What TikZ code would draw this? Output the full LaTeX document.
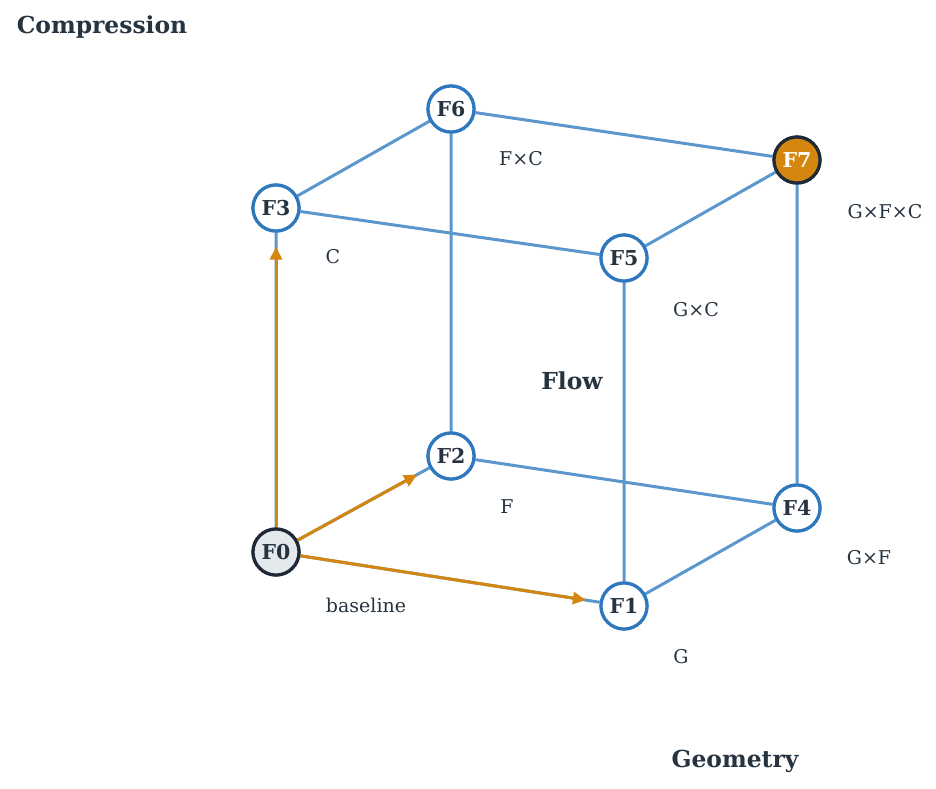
\documentclass[tikz,border=0pt]{standalone}
\usepackage{fontspec}
\setmainfont{DejaVu Serif}
\usetikzlibrary{arrows.meta}
\definecolor{txt}{HTML}{263340}
\definecolor{edgeblue}{HTML}{5B96CC}
\definecolor{nodeblue}{HTML}{2F78BE}
\definecolor{orng}{HTML}{D4860F}
\definecolor{darkb}{HTML}{1F2A36}
\definecolor{lgray}{HTML}{E4E9EE}
\tikzset{
  x=1pt,y=-1pt,
  vert/.style={circle,draw=nodeblue,line width=3.2pt,fill=white,minimum size=46pt,inner sep=0pt,text=txt,font=\fontsize{20.5}{20.5}\selectfont\bfseries},
  base/.style={vert,draw=darkb,fill=lgray},
  top/.style={vert,draw=darkb,fill=orng,text=white},
  cube/.style={draw=edgeblue,line width=3pt},
  path/.style={draw=orng,line width=3pt,-{Triangle[length=13pt,width=12pt]},shorten >=14pt},
  lab/.style={text=txt,font=\fontsize{19}{19}\selectfont},
  ax/.style={text=txt,font=\fontsize{23.4}{23.4}\selectfont\bfseries},
}
\begin{document}
\begin{tikzpicture}
\useasboundingbox (0,0) rectangle (936,788);
\node[base] (F0) at (276,552) {F0};
\node[vert] (F1) at (624,606) {F1};
\node[vert] (F2) at (451,456) {F2};
\node[vert] (F3) at (276,208) {F3};
\node[vert] (F4) at (797,508) {F4};
\node[vert] (F5) at (624,258) {F5};
\node[vert] (F6) at (451,109) {F6};
\node[top] (F7) at (797,160) {F7};
\path[cube] (F0)--(F1) (F0)--(F2) (F0)--(F3)
  (F1)--(F4) (F1)--(F5) (F2)--(F4) (F2)--(F6) (F3)--(F5) (F3)--(F6)
  (F4)--(F7) (F5)--(F7) (F6)--(F7);
\path[path] (F0)--(F1);
\path[path] (F0)--(F2);
\path[path] (F0)--(F3);
\node[base] at (F0) {F0};
\foreach \n in {F1,F2,F3,F4,F5,F6} {\node[vert] at (\n) {\n};}
\node[top] at (F7) {F7};
\node[lab] (l0) at (366,605) {baseline};
\node[lab] (l1) at (681,657) {G};
\node[lab] (l2) at (507,507) {F};
\node[lab] (l3) at (333,257) {C};
\node[lab] (l4) at (869,558) {G×F};
\node[lab] (l5) at (521,159) {F×C};
\node[lab] (l6) at (696,310) {G×C};
\node[lab] (l7) at (885,212) {G×F×C};
\node[ax] (ax1) at (102,27) {Compression};
\node[ax] (ax2) at (572,381) {Flow};
\node[ax] (ax3) at (735,761) {Geometry};
\end{tikzpicture}
\end{document}
